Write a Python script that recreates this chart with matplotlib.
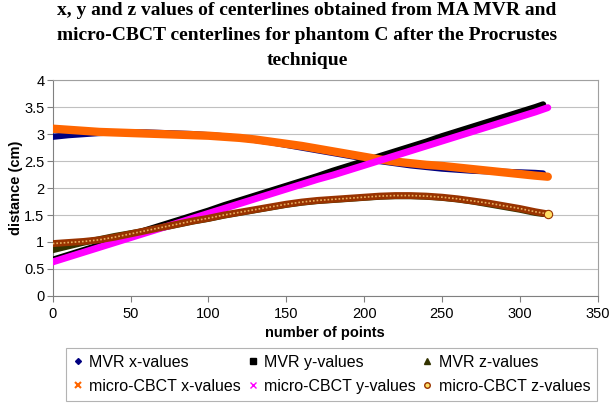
import matplotlib
matplotlib.use('Agg')
import matplotlib.pyplot as plt
from matplotlib.lines import Line2D

# points sampled every 10 along the centerlines
mvr_pts = [0, 10, 20, 30, 40, 50, 60, 70, 80, 90, 100, 110, 120, 130, 140, 150, 160,
           170, 180, 190, 200, 210, 220, 230, 240, 250, 260, 270, 280, 290, 300, 310, 315]
cbct_pts = [0, 10, 20, 30, 40, 50, 60, 70, 80, 90, 100, 110, 120, 130, 140, 150, 160,
            170, 180, 190, 200, 210, 220, 230, 240, 250, 260, 270, 280, 290, 300, 310, 318]

mvr_x = [2.95, 2.98, 3.00, 3.02, 3.03, 3.03, 3.03, 3.02, 3.01, 3.00, 2.98, 2.96, 2.93,
         2.89, 2.85, 2.80, 2.75, 2.70, 2.65, 2.60, 2.55, 2.50, 2.46, 2.42, 2.39, 2.36,
         2.34, 2.32, 2.31, 2.30, 2.29, 2.28, 2.27]
mvr_y = [0.67, 0.76, 0.85, 0.94, 1.04, 1.13, 1.22, 1.31, 1.40, 1.49, 1.58, 1.68, 1.77,
         1.86, 1.95, 2.04, 2.13, 2.22, 2.32, 2.41, 2.50, 2.59, 2.68, 2.77, 2.86, 2.96,
         3.05, 3.14, 3.23, 3.32, 3.41, 3.50, 3.55]
mvr_z = [0.85, 0.92, 0.99, 1.05, 1.11, 1.16, 1.21, 1.26, 1.32, 1.38, 1.43, 1.49, 1.54,
         1.59, 1.64, 1.69, 1.73, 1.76, 1.78, 1.80, 1.82, 1.84, 1.85, 1.85, 1.84, 1.82,
         1.79, 1.75, 1.70, 1.65, 1.60, 1.54, 1.52]

cbct_x = [3.10, 3.08, 3.06, 3.04, 3.03, 3.02, 3.01, 3.00, 2.99, 2.98, 2.97, 2.95, 2.93,
          2.90, 2.86, 2.82, 2.78, 2.73, 2.68, 2.63, 2.58, 2.53, 2.49, 2.46, 2.43, 2.41,
          2.38, 2.35, 2.32, 2.29, 2.26, 2.23, 2.21]
cbct_y = [0.63, 0.72, 0.81, 0.90, 0.99, 1.08, 1.17, 1.26, 1.35, 1.44, 1.53, 1.62, 1.71,
          1.80, 1.89, 1.98, 2.07, 2.16, 2.24, 2.33, 2.42, 2.51, 2.60, 2.69, 2.78, 2.87,
          2.96, 3.05, 3.14, 3.23, 3.32, 3.41, 3.49]
cbct_z = [0.97, 0.99, 1.01, 1.04, 1.09, 1.15, 1.21, 1.27, 1.33, 1.39, 1.44, 1.50, 1.55,
          1.60, 1.65, 1.70, 1.74, 1.77, 1.79, 1.81, 1.83, 1.85, 1.86, 1.86, 1.85, 1.83,
          1.80, 1.76, 1.72, 1.67, 1.62, 1.56, 1.52]

labels = ['MVR x-values', 'MVR y-values', 'MVR z-values',
          'micro-CBCT x-values', 'micro-CBCT y-values', 'micro-CBCT z-values']

plt.rcParams['font.family'] = ['Liberation Sans', 'DejaVu Sans']

fig = plt.figure(figsize=(6.14, 4.11), dpi=100)
ax = fig.add_axes([0.0858, 0.280, 0.8875, 0.525])

# dense marker chains drawn as thick bands
ax.plot(mvr_pts, mvr_x, color='#000080', lw=4.5, solid_capstyle='round', zorder=3)
ax.plot(mvr_pts, mvr_y, color='black', lw=4.5, solid_capstyle='round', zorder=3)
ax.plot(mvr_pts, mvr_z, color='#333300', lw=4.5, solid_capstyle='round', zorder=3)
ax.plot(cbct_pts, cbct_x, color='#ff6600', lw=6, solid_capstyle='round', zorder=4)
ax.plot(cbct_pts, cbct_y, color='#ff00ff', lw=5, solid_capstyle='round', zorder=4)
ax.plot(cbct_pts, cbct_z, color='#993300', lw=5, solid_capstyle='round', zorder=4)
ax.plot(cbct_pts, cbct_z, color='#e8b060', lw=1.2, ls=(0, (1, 1.2)), zorder=5)
ax.plot(cbct_pts[-1:], cbct_z[-1:], 'o', ms=6, mfc='#ffe066', mec='#993300', mew=0.8, zorder=6)

ax.set_xlim(0, 350)
ax.set_ylim(0, 4)
ax.set_xticks(range(0, 351, 50))
ax.set_yticks([0, 0.5, 1, 1.5, 2, 2.5, 3, 3.5, 4])
ax.set_yticklabels(['0', '0.5', '1', '1.5', '2', '2.5', '3', '3.5', '4'])
ax.tick_params(labelsize=10.5, length=4, color='#808080', pad=4)
ax.tick_params(axis='y', pad=2)
ax.grid(axis='y', color='#c0c0c0', lw=0.8)
ax.set_axisbelow(True)
for s in ax.spines.values():
    s.set_color('#a0a0a0')
ax.spines['left'].set_color('#808080')
ax.spines['bottom'].set_color('#808080')

ax.set_xlabel('number of points', fontsize=10.5, fontweight='bold')
ax.xaxis.set_label_coords(0.5, -0.14)
ax.set_ylabel('distance (cm)', fontsize=10.5, fontweight='bold')
ax.yaxis.set_label_coords(-0.055, 0.5)

fig.text(0.5, 0.995, 'x, y and z values of centerlines obtained from MA MVR and\n'
         'micro-CBCT centerlines for phantom C after the Procrustes\ntechnique',
         ha='center', va='top', fontsize=14, fontweight='bold',
         family='Liberation Serif', linespacing=1.6)

handles = [
    Line2D([], [], ls='', marker='D', ms=3, color='#000080'),
    Line2D([], [], ls='', marker='x', ms=4, color='#ff6600', mew=1.5),
    Line2D([], [], ls='', marker='s', ms=4, color='black'),
    Line2D([], [], ls='', marker='x', ms=4, color='#ff00ff', mew=1),
    Line2D([], [], ls='', marker='^', ms=4, color='#333300'),
    Line2D([], [], ls='', marker='o', ms=4, mfc='#ffe066', mec='#993300'),
]
order = [labels[0], labels[3], labels[1], labels[4], labels[2], labels[5]]
leg = fig.legend(handles, order, ncol=3, loc='lower center', bbox_to_anchor=(0.54, 0.005),
                 fontsize=11.5, frameon=True, fancybox=False, edgecolor='#a0a0a0',
                 handlelength=0.6, handletextpad=0.4, columnspacing=0.45,
                 borderpad=0.45, labelspacing=0.55)
leg.get_frame().set_linewidth(0.8)

fig.savefig('out.png', dpi=100)
